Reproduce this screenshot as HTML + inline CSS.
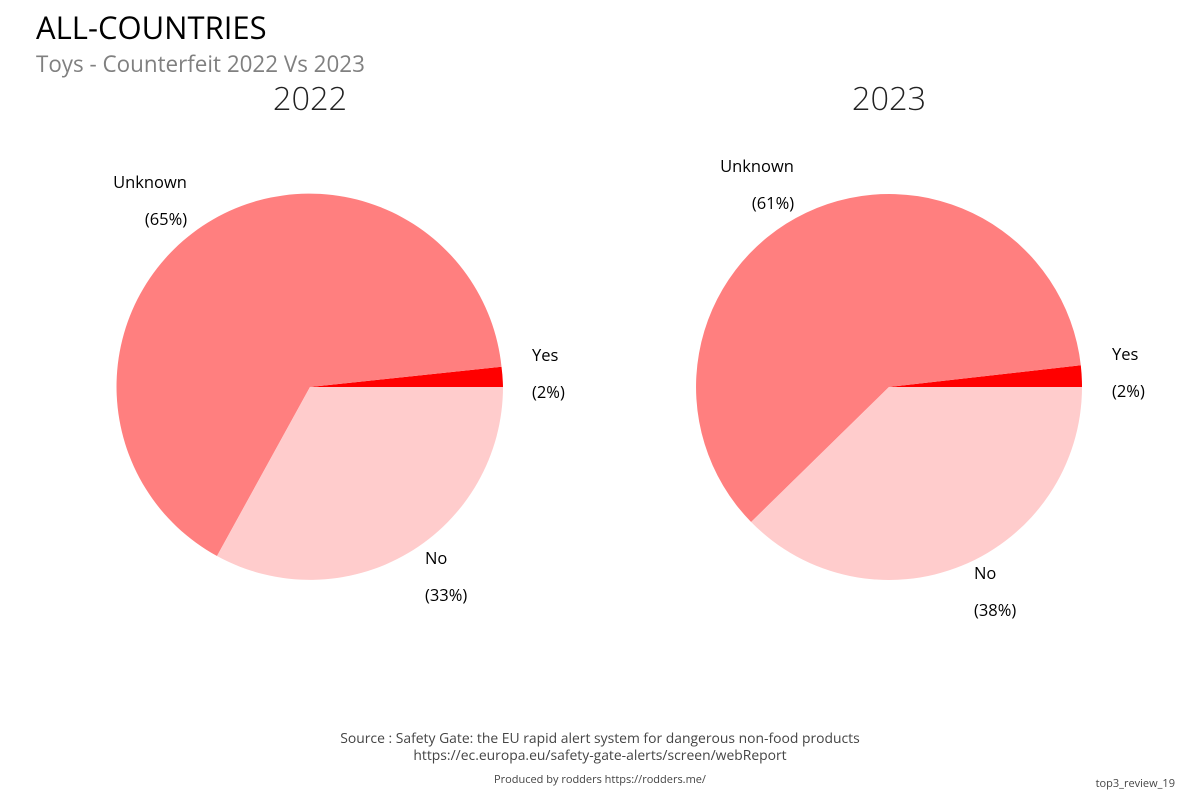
<!DOCTYPE html>
<html><head><meta charset="utf-8"><style>
html,body{margin:0;padding:0;background:#fff;}
svg{display:block;font-family:"Open Sans","DejaVu Sans","Liberation Sans",sans-serif;}
</style></head><body>
<svg width="1200" height="800" viewBox="0 0 1200 800" xmlns="http://www.w3.org/2000/svg">
<rect width="1200" height="800" fill="#fff"/>
<text x="36" y="39" font-size="31" fill="#000">ALL-COUNTRIES</text>
<text x="36" y="72" font-size="22.4" fill="#808080">Toys - Counterfeit 2022 Vs 2023</text>

<text x="310" y="110" font-size="32.5" font-weight="300" fill="#222" text-anchor="middle">2022</text>
<text x="889" y="110" font-size="32.5" font-weight="300" fill="#222" text-anchor="middle">2023</text>

<path d="M310,387 L503,387 A193,193 0 0 0 501.5,366.8 Z" fill="#ff0000"/>
<path d="M310,387 L501.5,366.8 A193,193 0 1 0 217,556 Z" fill="#ff7f7f"/>
<path d="M310,387 L217,556 A193,193 0 0 0 503,387 Z" fill="#ffcccc"/>

<path d="M889,387 L1082,387 A193,193 0 0 0 1080.8,365.2 Z" fill="#ff0000"/>
<path d="M889,387 L1080.8,365.2 A193,193 0 1 0 751.1,522 Z" fill="#ff7f7f"/>
<path d="M889,387 L751.1,522 A193,193 0 0 0 1082,387 Z" fill="#ffcccc"/>

<g font-size="16.5" fill="#000">
<text x="150" y="188" text-anchor="middle">Unknown</text>
<text x="166" y="225" text-anchor="middle">(65%)</text>
<text x="532" y="361">Yes</text>
<text x="532" y="398">(2%)</text>
<text x="425" y="564">No</text>
<text x="425" y="601">(33%)</text>

<text x="757" y="172" text-anchor="middle">Unknown</text>
<text x="773" y="209" text-anchor="middle">(61%)</text>
<text x="1112" y="360">Yes</text>
<text x="1112" y="397">(2%)</text>
<text x="974" y="579">No</text>
<text x="974" y="616">(38%)</text>
</g>

<text x="600" y="743" font-size="13.9" fill="#444" text-anchor="middle">Source : Safety Gate: the EU rapid alert system for dangerous non-food products</text>
<text x="600" y="760" font-size="13.9" fill="#444" text-anchor="middle">https://ec.europa.eu/safety-gate-alerts/screen/webReport</text>
<text x="600" y="783" font-size="11" fill="#444" text-anchor="middle">Produced by rodders https://rodders.me/</text>
<text x="1175" y="787" font-size="11" fill="#444" text-anchor="end">top3_review_19</text>
</svg>
</body></html>
